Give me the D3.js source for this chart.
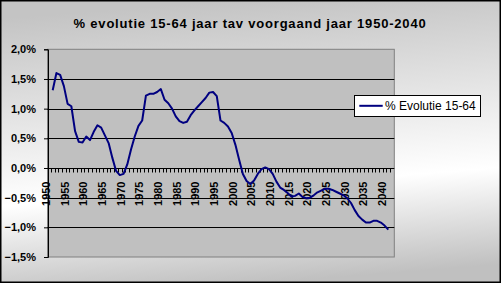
<!DOCTYPE html>
<html>
<head>
<meta charset="utf-8">
<script src="https://cdn.jsdelivr.net/npm/d3@7"></script>
<style>
  html, body { margin: 0; padding: 0; background: #fff; }
  svg { display: block; font-family: "Liberation Sans", Arial, sans-serif; }
</style>
</head>
<body>
<div id="chart"></div>
<script>
// categories: one per year
var years = d3.range(1950, 2041);

// % evolutie 15-64 jaar t.o.v. voorgaand jaar
var evolutie = [
  1.31, 1.60, 1.57, 1.38, 1.08, 1.04, 0.62, 0.44, 0.43, 0.53,
  0.47, 0.61, 0.72, 0.68, 0.55, 0.42, 0.17, -0.05, -0.12, -0.10,
  0.06, 0.31, 0.53, 0.71, 0.80, 1.22, 1.25, 1.25, 1.28, 1.33,
  1.15, 1.09, 1.00, 0.87, 0.79, 0.76, 0.78, 0.89, 0.97, 1.04,
  1.11, 1.18, 1.27, 1.28, 1.21, 0.80, 0.76, 0.70, 0.59, 0.39,
  0.14, -0.10, -0.22, -0.27, -0.21, -0.10, -0.02, 0.01, -0.02, -0.10,
  -0.23, -0.33, -0.37, -0.42, -0.48, -0.47, -0.43, -0.49, -0.51, -0.50,
  -0.46, -0.41, -0.38, -0.35, -0.35, -0.37, -0.40, -0.43, -0.46, -0.51,
  -0.59, -0.71, -0.81, -0.87, -0.92, -0.92, -0.89, -0.89, -0.92, -0.97,
  -1.04
];

var yTicks = [-1.5, -1.0, -0.5, 0.0, 0.5, 1.0, 1.5, 2.0];
var labelYears = [1950, 1955, 1960, 1965, 1970, 1975, 1980, 1985, 1990, 1995,
                  2000, 2005, 2010, 2015, 2020, 2025, 2030, 2035, 2040];

var title = "% evolutie 15-64 jaar tav voorgaand jaar 1950-2040";
var seriesName = "% Evolutie 15-64";

var width = 501, height = 283;
var plot = {left: 47.5, right: 394.3, top: 49.3, bottom: 257};

var nl = d3.formatLocale({decimal: ",", thousands: ".", grouping: [3], currency: ["", "€"]});
var fmt = nl.format(".1f");

var svg = d3.select("#chart").append("svg")
    .attr("width", width)
    .attr("height", height);

// background gradient, grey - white - grey like the Excel chart area
var grad = svg.append("defs").append("linearGradient")
    .attr("id", "bg")
    .attr("gradientUnits", "userSpaceOnUse")
    .attr("x1", 240).attr("y1", 0)
    .attr("x2", 262).attr("y2", height);
grad.append("stop").attr("offset", "0%").attr("stop-color", "#c4c4c4");
grad.append("stop").attr("offset", "66%").attr("stop-color", "#ffffff");
grad.append("stop").attr("offset", "100%").attr("stop-color", "#c0c0c0");

svg.append("rect")
    .attr("x", 0.75).attr("y", 0.75)
    .attr("width", width - 1.5).attr("height", height - 1.5)
    .attr("fill", "url(#bg)")
    .attr("stroke", "#000")
    .attr("stroke-width", 1.5);

var x = d3.scalePoint()
    .domain(years)
    .range([52.7, 388.3]);

var y = d3.scaleLinear()
    .domain([-1.5, 2.0])
    .range([plot.bottom, plot.top]);

// plot area
svg.append("rect")
    .attr("x", plot.left).attr("y", plot.top)
    .attr("width", plot.right - plot.left)
    .attr("height", plot.bottom - plot.top)
    .attr("fill", "#c0c0c0")
    .attr("stroke", "#808080")
    .attr("stroke-width", 1);

// gridlines
svg.selectAll("line.grid")
    .data(yTicks.filter(function(d) { return d > -1.5 && d < 2.0 && d !== 0; }))
    .enter().append("line")
    .attr("class", "grid")
    .attr("x1", plot.left).attr("x2", plot.right)
    .attr("y1", function(d) { return Math.round(y(d)) + 0.5; })
    .attr("y2", function(d) { return Math.round(y(d)) + 0.5; })
    .attr("stroke", "#000")
    .attr("stroke-width", 1);

// y axis
var yAxis = d3.axisLeft(y)
    .tickValues(yTicks)
    .tickSize(4)
    .tickPadding(8)
    .tickFormat(function(d) { return fmt(d) + "%"; });

var gy = svg.append("g")
    .attr("transform", "translate(" + (plot.left + 0.5) + ",0)")
    .call(yAxis);
gy.select(".domain").attr("stroke", "#000");
gy.selectAll(".tick line").attr("stroke", "#000");
gy.selectAll(".tick text")
    .attr("font-family", "Liberation Sans, Arial, sans-serif")
    .attr("font-size", 11)
    .attr("font-weight", "bold")
    .attr("fill", "#000");

// category axis on the 0-line
var zeroY = Math.round(y(0)) + 0.5;
svg.append("line")
    .attr("x1", plot.left).attr("x2", plot.right)
    .attr("y1", zeroY).attr("y2", zeroY)
    .attr("stroke", "#000");

var step = x.step();
var bounds = years.map(function(d) { return x(d) - step / 2; });
bounds.push(x(years[years.length - 1]) + step / 2);

svg.selectAll("line.xtick")
    .data(bounds)
    .enter().append("line")
    .attr("class", "xtick")
    .attr("x1", function(d) { return Math.round(d) + 0.5; })
    .attr("x2", function(d) { return Math.round(d) + 0.5; })
    .attr("y1", zeroY).attr("y2", zeroY + 4)
    .attr("stroke", "#000");

svg.selectAll("text.xlab")
    .data(labelYears)
    .enter().append("text")
    .attr("class", "xlab")
    .attr("transform", function(d) { return "translate(" + (x(d) - 2.5) + ",181.5) rotate(-90)"; })
    .attr("text-anchor", "end")
    .attr("font-size", 11)
    .attr("font-weight", "bold")
    .attr("fill", "#000")
    .text(function(d) { return d; });

// the series
var line = d3.line()
    .x(function(d, i) { return x(years[i]); })
    .y(function(d) { return y(d); });

svg.append("path")
    .datum(evolutie)
    .attr("d", line)
    .attr("fill", "none")
    .attr("stroke", "#000080")
    .attr("stroke-width", 2)
    .attr("stroke-linejoin", "round");

// title
svg.append("text")
    .attr("x", 250)
    .attr("y", 28.3)
    .attr("text-anchor", "middle")
    .attr("font-size", 13)
    .attr("font-weight", "bold")
    .attr("letter-spacing", 0.8)
    .attr("fill", "#000")
    .text(title);

// legend
var legend = svg.append("g");
legend.append("rect")
    .attr("x", 354.5).attr("y", 95.5)
    .attr("width", 126).attr("height", 21)
    .attr("fill", "#fff")
    .attr("stroke", "#000");
legend.append("line")
    .attr("x1", 359.3).attr("x2", 382.7)
    .attr("y1", 105.8).attr("y2", 105.8)
    .attr("stroke", "#000080")
    .attr("stroke-width", 2);
legend.append("text")
    .attr("x", 385)
    .attr("y", 110.2)
    .attr("font-size", 12)
    .attr("fill", "#000")
    .text(seriesName);
</script>
</body>
</html>
